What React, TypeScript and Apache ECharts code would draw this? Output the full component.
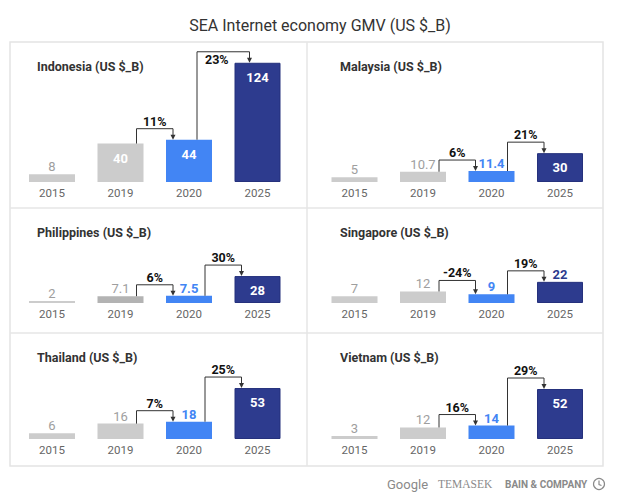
import React, { useEffect, useRef } from "react";
import * as echarts from "echarts";

const years = ["2015", "2019", "2020", "2025"];
const countries = ["Indonesia", "Malaysia", "Philippines", "Singapore", "Thailand", "Vietnam"];
const indonesia = [8, 40, 44, 124];
const malaysia = [5, 10.7, 11.4, 30];
const philippines = [2, 7.1, 7.5, 28];
const singapore = [7, 12, 9, 22];
const thailand = [6, 16, 18, 53];
const vietnam = [3, 12, 14, 52];
const indonesiaGrowth = ["11%", "23%"];
const malaysiaGrowth = ["6%", "21%"];
const philippinesGrowth = ["6%", "30%"];
const singaporeGrowth = ["-24%", "19%"];
const thailandGrowth = ["7%", "25%"];
const vietnamGrowth = ["16%", "29%"];

const allValues = [indonesia, malaysia, philippines, singapore, thailand, vietnam];
const allGrowth = [indonesiaGrowth, malaysiaGrowth, philippinesGrowth, singaporeGrowth, thailandGrowth, vietnamGrowth];

const FONT = "Roboto";
const barColors = ["#cccccc", "#cccccc", "#4285F4", "#2d3b8e"];
const outsideLabelColors = ["#9e9e9e", "#9e9e9e", "#4285F4", "#2d3b8e"];
const rowTops = [42, 208, 333];
const rowBaselines = [182, 303, 439];
const colLefts = [17.75, 320.25];
const colTitleX = [37, 340];
const Y_MAX = 130;
const GRID_H = 125;

export default function App() {
  const ref = useRef<HTMLDivElement>(null);
  useEffect(() => {
    if (!ref.current) return;
    const chart = echarts.init(ref.current, null, { renderer: "svg" });
    const grids: any[] = [];
    const xAxes: any[] = [];
    const yAxes: any[] = [];
    const series: any[] = [];
    const graphics: any[] = [];

    // frame
    graphics.push({ type: "rect", shape: { x: 10, y: 42, width: 593, height: 424 }, style: { fill: "none", stroke: "#e4e4e4", lineWidth: 1.5 }, silent: true });
    graphics.push({ type: "line", shape: { x1: 10, y1: 208, x2: 603, y2: 208 }, style: { stroke: "#e6e6e6", lineWidth: 1.5 } });
    graphics.push({ type: "line", shape: { x1: 10, y1: 333, x2: 603, y2: 333 }, style: { stroke: "#e6e6e6", lineWidth: 1.5 } });
    graphics.push({ type: "line", shape: { x1: 307, y1: 42, x2: 307, y2: 466 }, style: { stroke: "#e6e6e6", lineWidth: 1.5 } });

    countries.forEach((name, i) => {
      const col = i % 2;
      const row = Math.floor(i / 2);
      const baseline = rowBaselines[row];
      const panelTop = rowTops[row];
      const values = allValues[i];
      const growth = allGrowth[i];
      grids.push({ left: colLefts[col], width: 274, top: baseline - GRID_H, height: GRID_H });
      xAxes.push({
        type: "category", gridIndex: i, data: years,
        axisLine: { show: false }, axisTick: { show: false },
        axisLabel: { color: "#666", fontSize: 11.5, fontFamily: FONT, margin: 5 },
      });
      yAxes.push({ type: "value", gridIndex: i, min: 0, max: Y_MAX, show: false, splitLine: { show: false } });
      graphics.push({
        type: "text", x: colTitleX[col], y: panelTop + 24,
        style: { text: name + " (US $_B)", fill: "#333", fontSize: 12.5, fontWeight: "bold", fontFamily: FONT, verticalAlign: "middle" },
      });
      series.push({
        type: "bar", xAxisIndex: i, yAxisIndex: i, barWidth: 46,
        data: values.map((v, k) => {
          const inside = v >= 25;
          let color = barColors[k];
          if (name === "Philippines" && k === 1) color = "#b3b3b3";
          return {
            value: v,
            itemStyle: { color, borderColor: k === 3 ? "#25317c" : undefined, borderWidth: k === 3 ? 1 : 0 },
            label: {
              show: true,
              position: inside ? "insideTop" : "top",
              distance: inside ? 8 : 1,
              color: inside ? "#ffffff" : outsideLabelColors[k],
              fontSize: 13,
              fontWeight: inside || k >= 2 ? "bold" : "normal",
              fontFamily: FONT,
            },
          };
        }),
      });
      series.push({
        type: "custom", xAxisIndex: i, yAxisIndex: i,
        data: [[1, values[1], 2, values[2]], [2, values[2], 3, values[3]]],
        encode: { x: [0, 2], y: [1, 3] },
        clip: false,
        z: 5,
        renderItem: (params: any, api: any) => {
          const a = api.coord([api.value(0), api.value(1)]);
          const b = api.coord([api.value(2), api.value(3)]);
          const yl = Math.min(a[1], b[1]) - 11;
          const below = yl - 16 < panelTop + 4;
          const off = below ? 8 : 16;
          const x1 = a[0] + off;
          const x2 = b[0] - off;
          const label = growth[params.dataIndex];
          return {
            type: "group",
            children: [
              { type: "polyline", shape: { points: [[x1, a[1]], [x1, yl], [x2, yl], [x2, b[1] - 4]] }, style: { stroke: "#333", lineWidth: 1, fill: "none" } },
              { type: "polygon", shape: { points: [[x2 - 2.5, b[1] - 5], [x2 + 2.5, b[1] - 5], [x2, b[1]]] }, style: { fill: "#333" } },
              {
                type: "text",
                style: below
                  ? { text: label, x: x1 + 8, y: yl + 1, align: "left", verticalAlign: "top", fill: "#111", fontSize: 12.5, fontWeight: "bold", fontFamily: FONT }
                  : { text: label, x: (x1 + x2) / 2, y: yl - 1, align: "center", verticalAlign: "bottom", fill: "#111", fontSize: 12.5, fontWeight: "bold", fontFamily: FONT },
              },
            ],
          };
        },
      });
    });

    // footer
    graphics.push({ type: "text", x: 387, y: 484, style: { text: "Google", fill: "#8a8a8a", fontSize: 13, fontFamily: FONT, verticalAlign: "middle" } });
    graphics.push({ type: "text", x: 438, y: 484, style: { text: "TEMASEK", fill: "#8a8a8a", fontSize: 11.5, fontFamily: "Liberation Serif", verticalAlign: "middle" } });
    graphics.push({ type: "text", x: 505, y: 484, style: { text: "BAIN & COMPANY", fill: "#8a8a8a", fontSize: 10, fontWeight: "bold", fontFamily: FONT, verticalAlign: "middle" } });
    graphics.push({ type: "circle", shape: { cx: 599, cy: 484, r: 5.5 }, style: { fill: "none", stroke: "#8a8a8a", lineWidth: 1.2 } });
    graphics.push({ type: "polyline", shape: { points: [[599, 480.5], [599, 484.5], [601.5, 485.5]] }, style: { fill: "none", stroke: "#8a8a8a", lineWidth: 1.2 } });

    chart.setOption({
      animation: false,
      backgroundColor: "#ffffff",
      title: {
        text: "SEA Internet economy GMV (US $_B)", left: "center", top: 12,
        textStyle: { color: "#333", fontSize: 16, fontWeight: "normal", fontFamily: FONT },
      },
      grid: grids,
      xAxis: xAxes,
      yAxis: yAxes,
      series,
      graphic: graphics,
    });
    return () => chart.dispose();
  }, []);
  return <div ref={ref} style={{ position: "absolute", left: 0, top: 0, width: 640, height: 503 }} />;
}
